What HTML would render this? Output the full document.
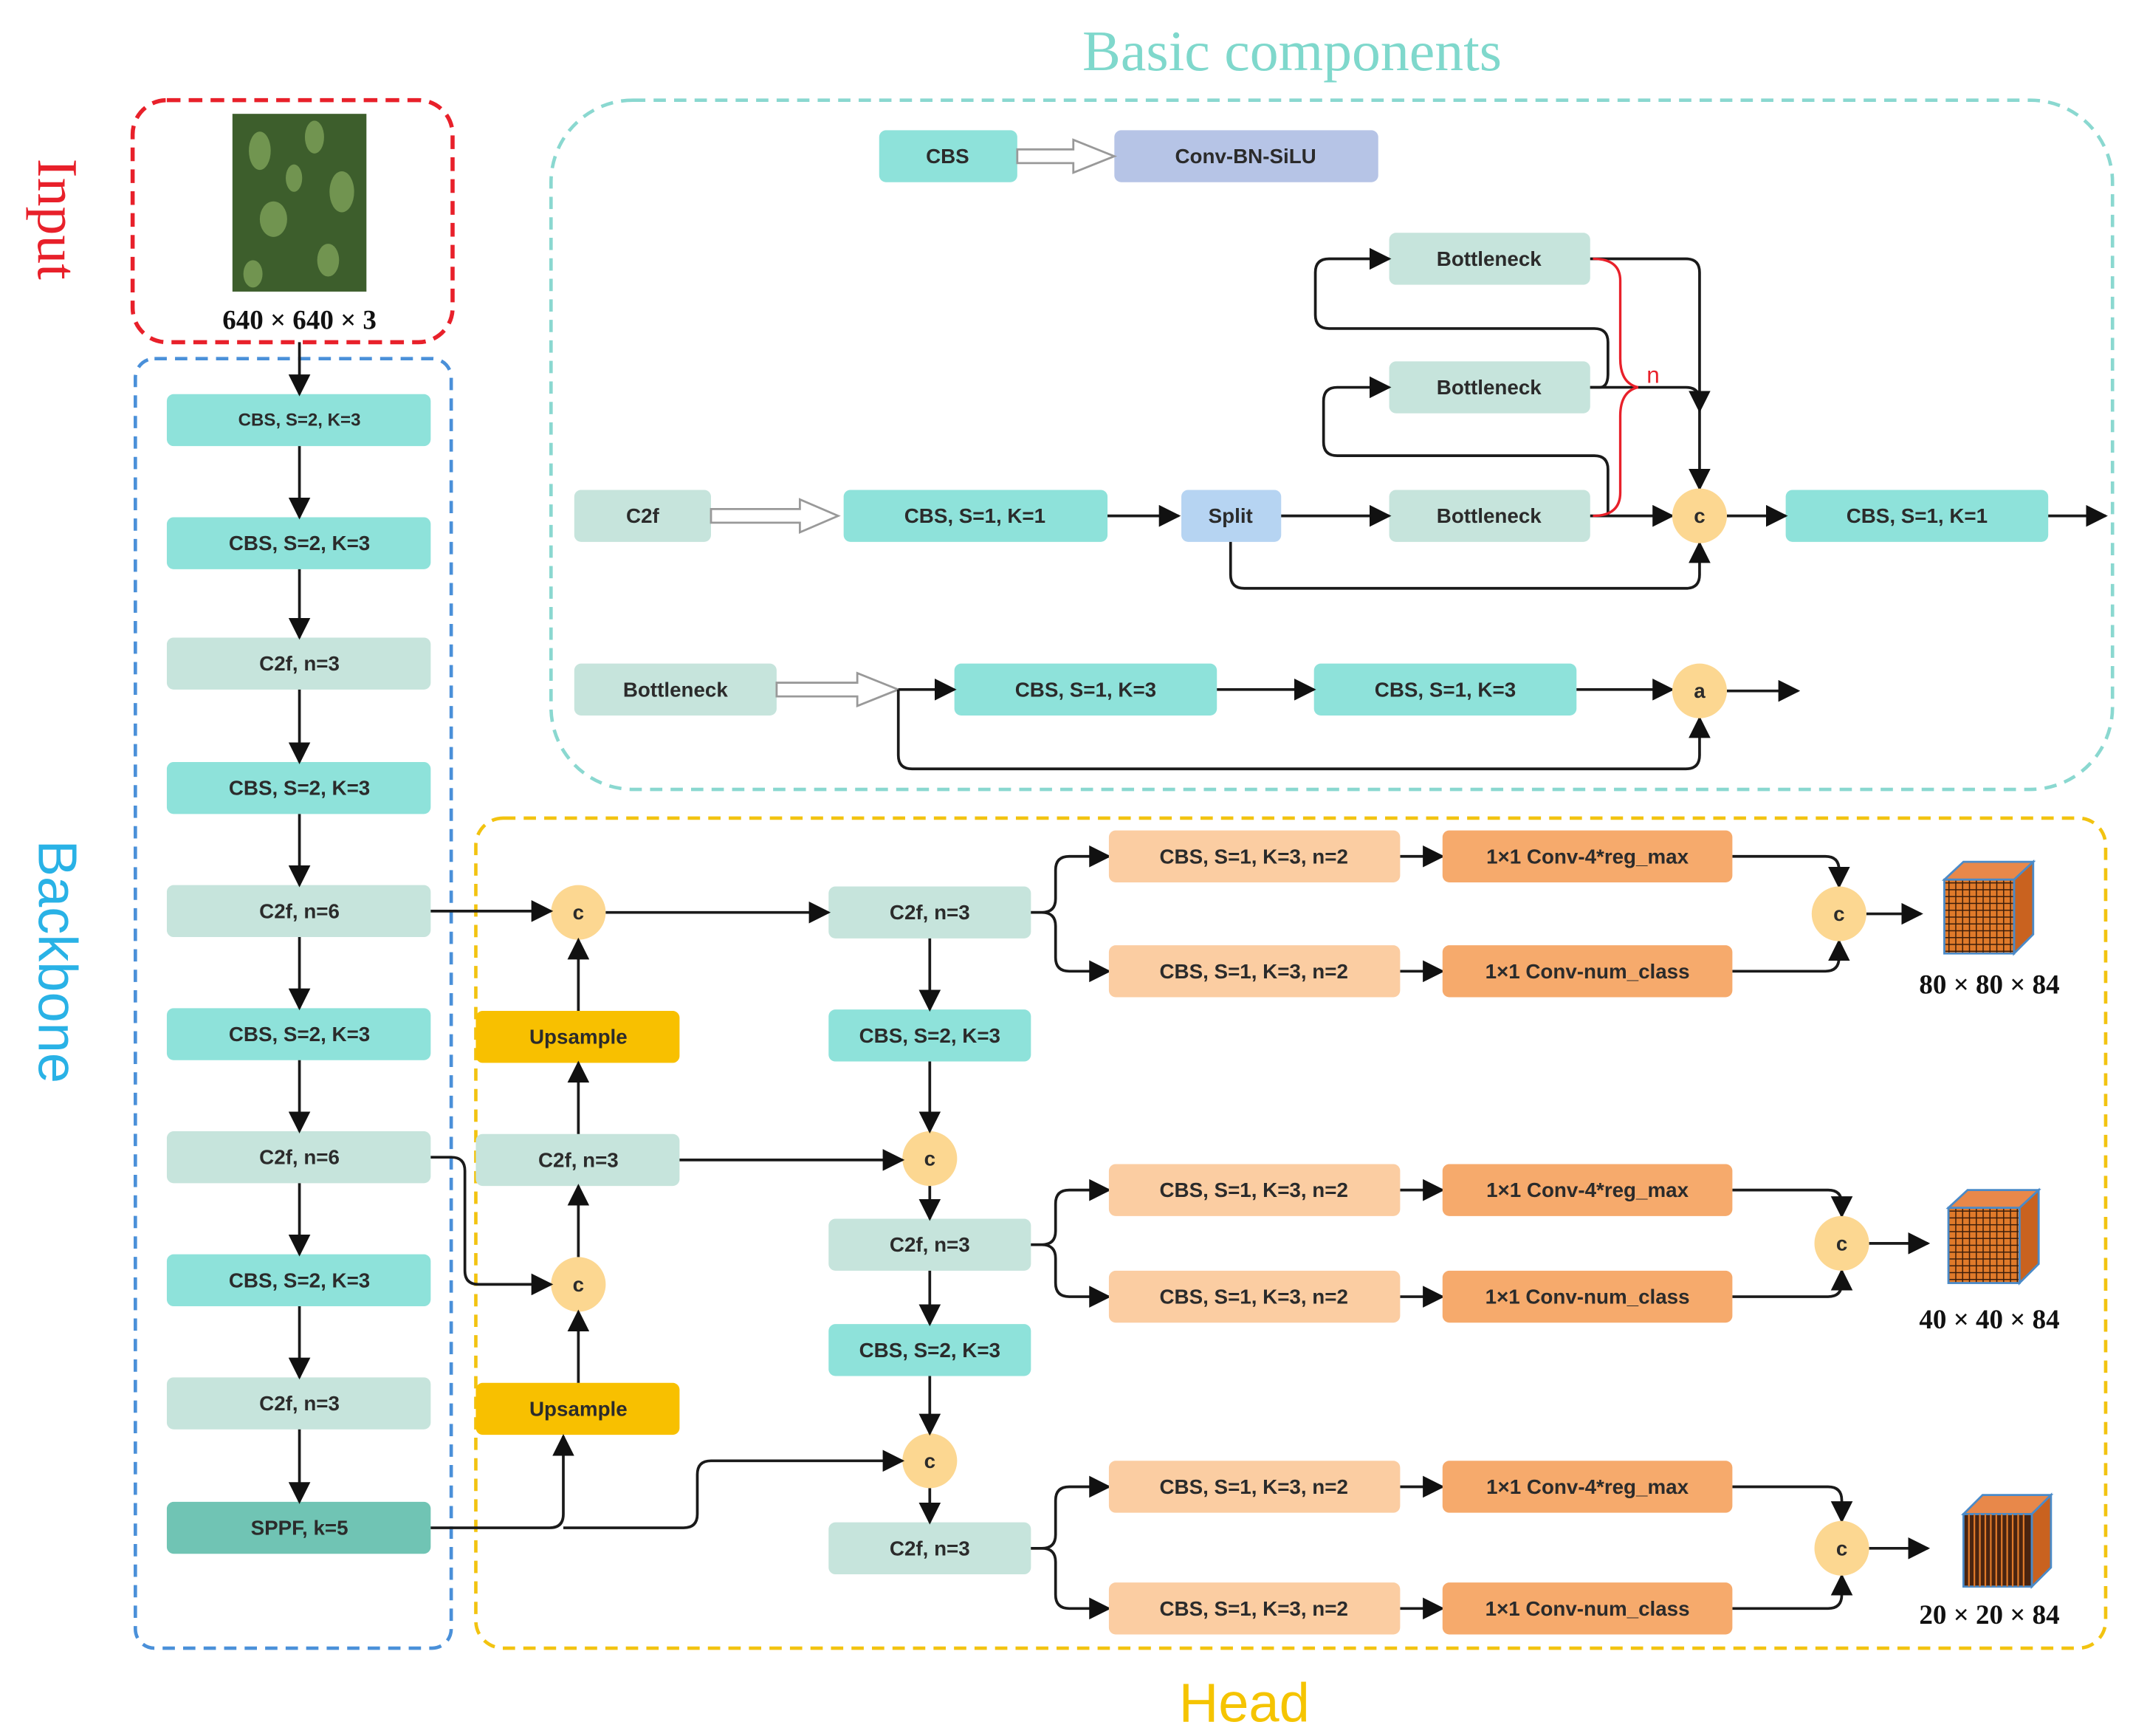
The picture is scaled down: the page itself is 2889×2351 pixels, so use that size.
<!DOCTYPE html>
<html><head><meta charset="utf-8"><style>
html,body{margin:0;padding:0;background:#fff}
svg{display:block}
.t{font-family:"Liberation Sans",sans-serif;font-weight:bold;font-size:15px;fill:#2b2b2b;text-anchor:middle;dominant-baseline:central}
.s{font-family:"Liberation Serif",serif;font-weight:bold;font-size:20px;fill:#111;text-anchor:middle;dominant-baseline:central}
.l{fill:none;stroke:#1a1a1a;stroke-width:2}
</style></head><body>
<svg width="2889" height="2351" viewBox="0 0 1560 1269" xmlns="http://www.w3.org/2000/svg">
<defs>
<marker id="a" viewBox="0 0 10 10" refX="9" refY="5" markerWidth="7" markerHeight="7" orient="auto" markerUnits="userSpaceOnUse"><path d="M0,0L10,5L0,10z" fill="#111"/></marker>
<marker id="A" viewBox="0 0 10 10" refX="9" refY="5" markerWidth="16" markerHeight="16" orient="auto" markerUnits="userSpaceOnUse"><path d="M0,0L10,5L0,10z" fill="#111"/></marker>
<pattern id="g" width="5" height="5" patternUnits="userSpaceOnUse"><rect width="5" height="5" fill="#e07a2a"/><path d="M0,0H5M0,0V5" stroke="#3a1c0a" stroke-width="1.6"/></pattern>
</defs>
<!-- titles -->
<text x="945" y="37" font-family="Liberation Serif,serif" font-size="42" fill="#7fd8cc" text-anchor="middle" dominant-baseline="central">Basic components</text>
<text x="910" y="1245" font-family="Liberation Sans,sans-serif" font-size="40" fill="#f5c400" text-anchor="middle" dominant-baseline="central">Head</text>
<text transform="translate(42,160) rotate(90)" font-family="Liberation Serif,serif" font-size="42" fill="#e8202a" text-anchor="middle" dominant-baseline="central">Input</text>
<text transform="translate(42,703) rotate(90)" font-family="Liberation Sans,sans-serif" font-size="40" fill="#29b2e6" text-anchor="middle" dominant-baseline="central">Backbone</text>

<!-- containers -->
<rect x="97" y="73" width="234" height="177" rx="25" fill="none" stroke="#e8202a" stroke-width="3" stroke-dasharray="10,6"/>
<rect x="99" y="262" width="231" height="943" rx="14" fill="none" stroke="#4a90d9" stroke-width="2.5" stroke-dasharray="9,6"/>
<rect x="403" y="73" width="1142" height="504" rx="60" fill="none" stroke="#8ad8d0" stroke-width="2.5" stroke-dasharray="9,6"/>
<rect x="348" y="598" width="1192" height="607" rx="20" fill="none" stroke="#f2c310" stroke-width="2.5" stroke-dasharray="9,6"/>

<!-- input image -->
<rect x="170" y="83" width="98" height="130" fill="#3d5e2c"/>
<g fill="#7ea25a" opacity="0.8"><ellipse cx="190" cy="110" rx="8" ry="14"/><ellipse cx="230" cy="100" rx="7" ry="12"/><ellipse cx="250" cy="140" rx="9" ry="15"/><ellipse cx="200" cy="160" rx="10" ry="13"/><ellipse cx="240" cy="190" rx="8" ry="12"/><ellipse cx="185" cy="200" rx="7" ry="10"/><ellipse cx="215" cy="130" rx="6" ry="10"/></g>
<text class="s" x="219" y="234">640 × 640 × 3</text>

<!-- backbone -->
<g class="t">
<rect x="122" y="288" width="193" height="38" rx="5" fill="#8ee2da"/><text x="219" y="307" style="font-size:13px">CBS, S=2, K=3</text>
<rect x="122" y="378" width="193" height="38" rx="5" fill="#8ee2da"/><text x="219" y="397">CBS, S=2, K=3</text>
<rect x="122" y="466" width="193" height="38" rx="5" fill="#c6e4dc"/><text x="219" y="485">C2f, n=3</text>
<rect x="122" y="557" width="193" height="38" rx="5" fill="#8ee2da"/><text x="219" y="576">CBS, S=2, K=3</text>
<rect x="122" y="647" width="193" height="38" rx="5" fill="#c6e4dc"/><text x="219" y="666">C2f, n=6</text>
<rect x="122" y="737" width="193" height="38" rx="5" fill="#8ee2da"/><text x="219" y="756">CBS, S=2, K=3</text>
<rect x="122" y="827" width="193" height="38" rx="5" fill="#c6e4dc"/><text x="219" y="846">C2f,  n=6</text>
<rect x="122" y="917" width="193" height="38" rx="5" fill="#8ee2da"/><text x="219" y="936">CBS, S=2, K=3</text>
<rect x="122" y="1007" width="193" height="38" rx="5" fill="#c6e4dc"/><text x="219" y="1026">C2f, n=3</text>
<rect x="122" y="1098" width="193" height="38" rx="5" fill="#70c4b4"/><text x="219" y="1117">SPPF, k=5</text>
</g>
<g class="l" marker-end="url(#A)">
<path d="M219,250V288"/><path d="M219,326V378"/><path d="M219,416V466"/><path d="M219,504V557"/><path d="M219,595V647"/><path d="M219,685V737"/><path d="M219,775V827"/><path d="M219,865V917"/><path d="M219,955V1007"/><path d="M219,1045V1098"/>
</g>

<!-- head left column -->
<g class="t">
<rect x="348" y="739" width="149" height="38" rx="5" fill="#f8c000"/><text x="423" y="758">Upsample</text>
<rect x="348" y="829" width="149" height="38" rx="5" fill="#c6e4dc"/><text x="423" y="848">C2f, n=3</text>
<rect x="348" y="1011" width="149" height="38" rx="5" fill="#f8c000"/><text x="423" y="1030">Upsample</text>
<rect x="606" y="648" width="148" height="38" rx="5" fill="#c6e4dc"/><text x="680" y="667">C2f, n=3</text>
<rect x="606" y="738" width="148" height="38" rx="5" fill="#8ee2da"/><text x="680" y="757">CBS, S=2, K=3</text>
<rect x="606" y="891" width="148" height="38" rx="5" fill="#c6e4dc"/><text x="680" y="910">C2f, n=3</text>
<rect x="606" y="968" width="148" height="38" rx="5" fill="#8ee2da"/><text x="680" y="987">CBS, S=2, K=3</text>
<rect x="606" y="1113" width="148" height="38" rx="5" fill="#c6e4dc"/><text x="680" y="1132">C2f, n=3</text>
<circle cx="423" cy="667" r="20" fill="#fcd791"/><text x="423" y="667">c</text>
<circle cx="423" cy="939" r="20" fill="#fcd791"/><text x="423" y="939">c</text>
<circle cx="680" cy="847" r="20" fill="#fcd791"/><text x="680" y="847">c</text>
<circle cx="680" cy="1068" r="20" fill="#fcd791"/><text x="680" y="1068">c</text>
</g>
<g class="l" marker-end="url(#A)">
<path d="M315,666H403"/>
<path d="M315,846H330Q340,846 340,856V929Q340,939 350,939H403"/>
<path d="M315,1117H402Q412,1117 412,1107V1050"/>
<path d="M412,1117H500Q510,1117 510,1107V1078Q510,1068 520,1068H660"/>
<path d="M423,1011V959"/><path d="M423,919V867"/><path d="M423,829V777"/><path d="M423,739V687"/>
<path d="M443,667H606"/><path d="M497,848H660"/>
<path d="M680,686V738"/><path d="M680,776V827"/><path d="M680,867V891"/><path d="M680,929V968"/><path d="M680,1006V1048"/><path d="M680,1088V1113"/>
</g>

<!-- head branches -->
<g id="br">
</g>
<g class="l" marker-end="url(#A)">
<path d="M754,667H762Q772,667 772,657V636Q772,626 782,626H811"/>
<path d="M754,667H762Q772,667 772,677V700Q772,710 782,710H811"/>
<path d="M754,910H762Q772,910 772,900V880Q772,870 782,870H811"/>
<path d="M754,910H762Q772,910 772,920V938Q772,948 782,948H811"/>
<path d="M754,1132H762Q772,1132 772,1122V1097Q772,1087 782,1087H811"/>
<path d="M754,1132H762Q772,1132 772,1142V1166Q772,1176 782,1176H811"/>
<path d="M1024,626H1055"/><path d="M1024,710H1055"/><path d="M1024,870H1055"/><path d="M1024,948H1055"/><path d="M1024,1087H1055"/><path d="M1024,1176H1055"/>
<path d="M1267,626H1335Q1345,626 1345,636V648"/><path d="M1267,710H1335Q1345,710 1345,700V688"/>
<path d="M1267,870H1337Q1347,870 1347,880V889"/><path d="M1267,948H1337Q1347,948 1347,938V929"/>
<path d="M1267,1087H1337Q1347,1087 1347,1097V1112"/><path d="M1267,1176H1337Q1347,1176 1347,1166V1152"/>
<path d="M1365,668H1405"/><path d="M1367,909H1410"/><path d="M1367,1132H1410"/>
</g>
<g class="t">
<rect x="811" y="607" width="213" height="38" rx="5" fill="#fbcda2"/><text x="917" y="626">CBS, S=1, K=3, n=2</text>
<rect x="811" y="691" width="213" height="38" rx="5" fill="#fbcda2"/><text x="917" y="710">CBS, S=1, K=3, n=2</text>
<rect x="811" y="851" width="213" height="38" rx="5" fill="#fbcda2"/><text x="917" y="870">CBS, S=1, K=3, n=2</text>
<rect x="811" y="929" width="213" height="38" rx="5" fill="#fbcda2"/><text x="917" y="948">CBS, S=1, K=3, n=2</text>
<rect x="811" y="1068" width="213" height="38" rx="5" fill="#fbcda2"/><text x="917" y="1087">CBS, S=1, K=3, n=2</text>
<rect x="811" y="1157" width="213" height="38" rx="5" fill="#fbcda2"/><text x="917" y="1176">CBS, S=1, K=3, n=2</text>
<rect x="1055" y="607" width="212" height="38" rx="5" fill="#f6aa6c"/><text x="1161" y="626">1×1 Conv-4*reg_max</text>
<rect x="1055" y="691" width="212" height="38" rx="5" fill="#f6aa6c"/><text x="1161" y="710">1×1 Conv-num_class</text>
<rect x="1055" y="851" width="212" height="38" rx="5" fill="#f6aa6c"/><text x="1161" y="870">1×1 Conv-4*reg_max</text>
<rect x="1055" y="929" width="212" height="38" rx="5" fill="#f6aa6c"/><text x="1161" y="948">1×1 Conv-num_class</text>
<rect x="1055" y="1068" width="212" height="38" rx="5" fill="#f6aa6c"/><text x="1161" y="1087">1×1 Conv-4*reg_max</text>
<rect x="1055" y="1157" width="212" height="38" rx="5" fill="#f6aa6c"/><text x="1161" y="1176">1×1 Conv-num_class</text>
<circle cx="1345" cy="668" r="20" fill="#fcd791"/><text x="1345" y="668">c</text>
<circle cx="1347" cy="909" r="20" fill="#fcd791"/><text x="1347" y="909">c</text>
<circle cx="1347" cy="1132" r="20" fill="#fcd791"/><text x="1347" y="1132">c</text>
</g>
<!-- cubes -->
<g stroke="#4a8ac8" stroke-width="1.5">
<path d="M1422,643L1436,630H1487L1473,643Z" fill="#e8884a"/><path d="M1473,643L1487,630V683L1473,697Z" fill="#c9621f"/><rect x="1422" y="643" width="51" height="54" fill="url(#g)"/>
<path d="M1425,883L1439,870H1491L1477,883Z" fill="#e8884a"/><path d="M1477,883L1491,870V924L1477,938Z" fill="#c9621f"/><rect x="1425" y="883" width="52" height="55" fill="url(#g)"/>
<path d="M1436,1107L1450,1093H1500L1486,1107Z" fill="#e8884a"/><path d="M1486,1107L1500,1093V1146L1486,1160Z" fill="#c9621f"/><rect x="1436" y="1107" width="50" height="53" fill="#4a2410"/>
</g>
<g stroke="#e07a2a" stroke-width="1.2"><path d="M1440,1107V1160M1444,1107V1160M1448,1107V1160M1452,1107V1160M1456,1107V1160M1460,1107V1160M1464,1107V1160M1468,1107V1160M1472,1107V1160M1476,1107V1160M1480,1107V1160"/></g>
<text class="s" x="1455" y="720">80 × 80 × 84</text>
<text class="s" x="1455" y="965">40 × 40 × 84</text>
<text class="s" x="1455" y="1181">20 × 20 × 84</text>

<!-- basic components -->
<g class="t">
<rect x="643" y="95" width="101" height="38" rx="5" fill="#8ee2da"/><text x="693" y="114">CBS</text>
<rect x="815" y="95" width="193" height="38" rx="5" fill="#b6c4e6"/><text x="911" y="114">Conv-BN-SiLU</text>
<rect x="420" y="358" width="100" height="38" rx="5" fill="#c6e4dc"/><text x="470" y="377">C2f</text>
<rect x="617" y="358" width="193" height="38" rx="5" fill="#8ee2da"/><text x="713" y="377">CBS, S=1, K=1</text>
<rect x="864" y="358" width="73" height="38" rx="5" fill="#b6d4f2"/><text x="900" y="377">Split</text>
<rect x="1016" y="170" width="147" height="38" rx="5" fill="#c6e4dc"/><text x="1089" y="189">Bottleneck</text>
<rect x="1016" y="264" width="147" height="38" rx="5" fill="#c6e4dc"/><text x="1089" y="283">Bottleneck</text>
<rect x="1016" y="358" width="147" height="38" rx="5" fill="#c6e4dc"/><text x="1089" y="377">Bottleneck</text>
<rect x="1306" y="358" width="192" height="38" rx="5" fill="#8ee2da"/><text x="1402" y="377">CBS, S=1, K=1</text>
<rect x="420" y="485" width="148" height="38" rx="5" fill="#c6e4dc"/><text x="494" y="504">Bottleneck</text>
<rect x="698" y="485" width="192" height="38" rx="5" fill="#8ee2da"/><text x="794" y="504">CBS, S=1, K=3</text>
<rect x="961" y="485" width="192" height="38" rx="5" fill="#8ee2da"/><text x="1057" y="504">CBS, S=1, K=3</text>
</g>
<!-- hollow arrows -->
<g fill="#fff" stroke="#999" stroke-width="1.5">
<path d="M744,109H785V102L815,114L785,126V119H744Z"/>
<path d="M520,372H585V365L613,377L585,389V382H520Z"/>
<path d="M568,499H627V492L657,504L627,516V509H568Z"/>
</g>
<g class="l" marker-end="url(#A)">
<path d="M810,377H862"/><path d="M937,377H1016"/>
<path d="M1163,377H1223"/>
<path d="M900,396V420Q900,430 910,430H1233Q1243,430 1243,420V397"/>
<path d="M1176,377V343Q1176,333 1166,333H978Q968,333 968,323V293Q968,283 978,283H1016"/>
<path d="M1163,283H1170Q1176,283 1176,273V250Q1176,240 1166,240H972Q962,240 962,230V199Q962,189 972,189H1016"/>
<path d="M1163,189H1233Q1243,189 1243,199V357"/>
<path d="M1163,283H1233Q1243,283 1243,293V300"/>
<path d="M1263,377H1306"/><path d="M1498,377H1540"/>
<path d="M657,504H698"/><path d="M890,504H961"/><path d="M1153,504H1223"/><path d="M1263,505H1315"/>
<path d="M657,504V552Q657,562 667,562H1233Q1243,562 1243,552V525"/>
</g>
<path d="M1165,189Q1185,189 1185,205V262Q1185,280 1198,283Q1185,286 1185,304V360Q1185,377 1165,377" fill="none" stroke="#e8202a" stroke-width="1.8"/>
<text x="1209" y="274" font-family="Liberation Sans,sans-serif" font-size="17" fill="#e8202a" text-anchor="middle" dominant-baseline="central">n</text>
<g class="t">
<circle cx="1243" cy="377" r="20" fill="#fcd791"/><text x="1243" y="377">c</text>
<circle cx="1243" cy="505" r="20" fill="#fcd791"/><text x="1243" y="505">a</text>
</g>
</svg>
</body></html>
